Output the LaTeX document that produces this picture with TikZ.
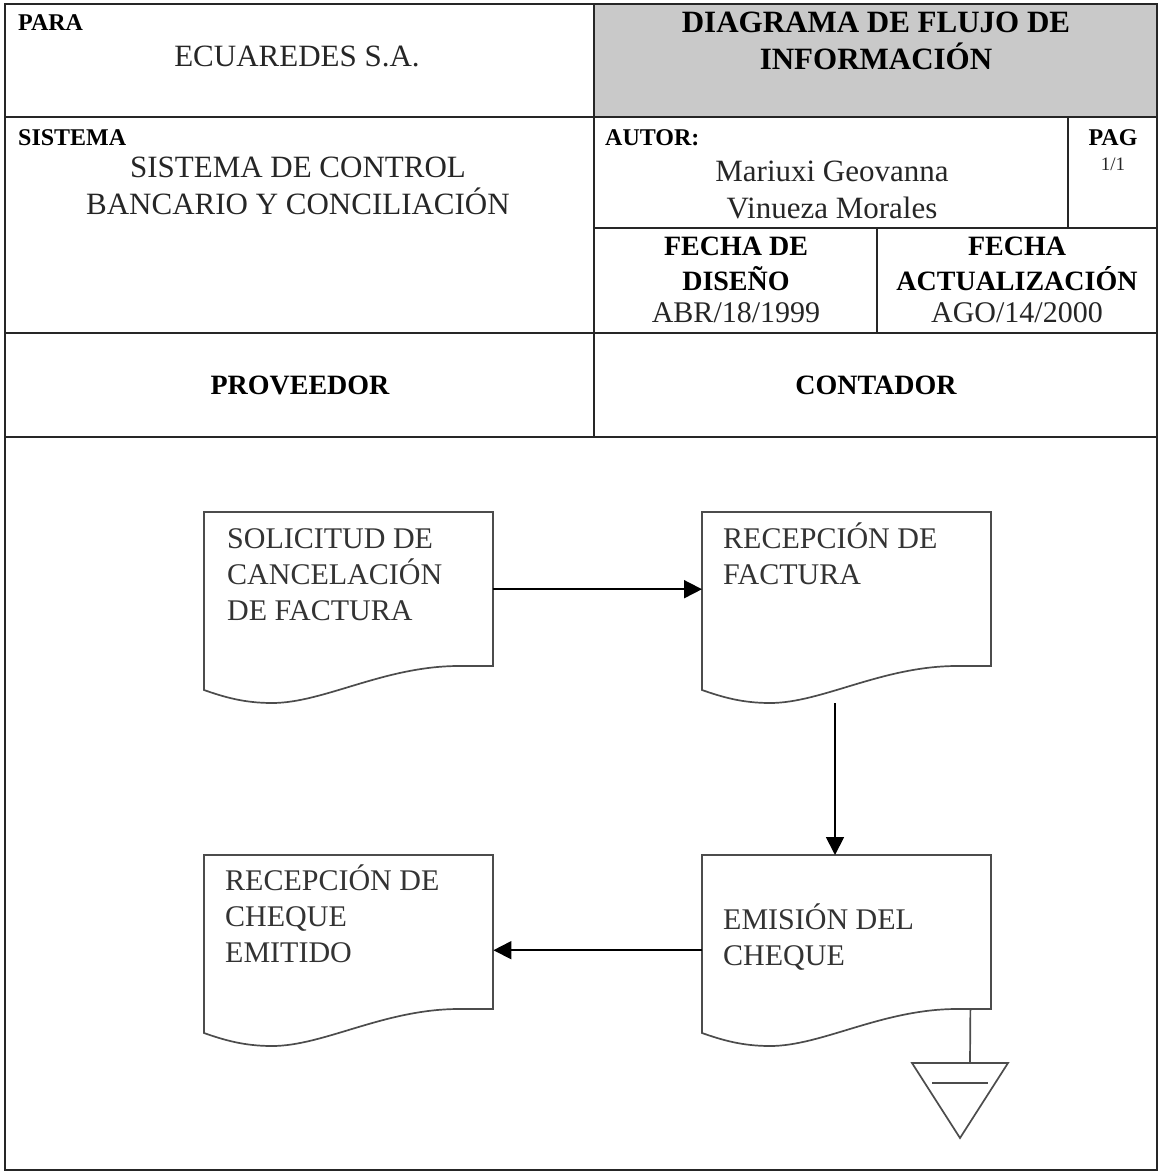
\documentclass[tikz,border=0pt]{standalone}
\usepackage{fontspec}
\setmainfont{Liberation Serif}
\usetikzlibrary{arrows.meta,positioning}

\tikzset{
  frame/.style={line width=2.6pt, draw=black!85},
  fieldname/.style={font=\fontsize{24}{28}\selectfont\bfseries, inner sep=0pt, anchor=north west},
  fieldval/.style={font=\fontsize{31}{37}\selectfont, text=black!85, align=center, inner sep=0pt},
  heading/.style={font=\fontsize{28}{37}\selectfont\bfseries, align=center, inner sep=0pt},
  docbox/.style={minimum width=289pt, minimum height=154pt, inner sep=0pt, anchor=north west},
  docline/.style={line width=1.7pt, draw=black!70},
  doctext/.style={font=\fontsize{30}{36}\selectfont, text=black!80, align=left, inner sep=0pt},
  flow/.style={line width=1.8pt, -{Triangle[length=18pt,width=18pt]}},
}

\begin{document}
\begin{tikzpicture}[x=1pt, y=-1pt]
        \useasboundingbox (0,0) rectangle (1159,1173);
        % cabecera
        \fill[black!21] (594,4) rectangle (1157,117);
        \draw[frame] (5,4) rectangle (1157,1170);
        \draw[frame] (5,117) -- (1157,117) (5,333) -- (1157,333) (5,437) -- (1157,437);
        \draw[frame] (594,4) -- (594,437) (594,228) -- (1157,228);
        \draw[frame] (1068,117) -- (1068,228) (877,228) -- (877,333);

        \node[fieldname] (para) at (18,14) {PARA};
        \node[fieldval] (empresa) at (297,56) {ECUAREDES S.A.};
        \node[heading, font=\fontsize{31}{37}\selectfont\bfseries] (titulo) at (876,41) {DIAGRAMA DE FLUJO DE\\INFORMACIÓN};
        \node[fieldname] (sistema) at (18,129) {SISTEMA};
        \node[fieldval] (sistemanombre) at (298,186) {SISTEMA DE CONTROL\\BANCARIO Y CONCILIACIÓN};
        \node[fieldname] (autor) at (605,129) {AUTOR:};
        \node[fieldval] (autornombre) at (832,190) {Mariuxi Geovanna\\Vinueza Morales};
        \node[fieldname, anchor=north] (pag) at (1113,129) {PAG};
        \node[font=\fontsize{19}{22}\selectfont, text=black!85, inner sep=0pt] (pagnum) at (1113,164) {1/1};
        \node[heading, font=\fontsize{28}{35}\selectfont\bfseries] (fdiseno) at (736,263.5) {FECHA DE\\DISEÑO};
        \node[fieldval, font=\fontsize{30}{37}\selectfont] (fdisenoval) at (736,313) {ABR/18/1999};
        \node[heading, font=\fontsize{28}{35}\selectfont\bfseries] (factual) at (1017,263.5) {FECHA\\ACTUALIZACIÓN};
        \node[fieldval, font=\fontsize{30}{37}\selectfont] (factualval) at (1017,313) {AGO/14/2000};
        \node[heading] (proveedor) at (300,385) {PROVEEDOR};
        \node[heading] (contador) at (876,385) {CONTADOR};

        % documentos
        \node[docbox] (solicitud) at (204,512) {};
        \node[docbox] (recepfact) at (702,512) {};
        \node[docbox] (recepcheque) at (204,855) {};
        \node[docbox] (emision) at (702,855) {};
        \foreach \d in {solicitud,recepfact,recepcheque,emision}
            \draw[docline, shift={(\d.north west)}] (0,178) .. controls (20,185) and (40,191) .. (68,191)
                .. controls (120,191) and (180,154) .. (255,154) -- (289,154) -- (289,0) -- (0,0) -- cycle;

        \node[doctext, below right=11pt and 23pt of solicitud.north west] (solicitud_txt) {\vphantom{Ó}SOLICITUD DE\\CANCELACIÓN\\DE FACTURA};
        \node[doctext, below right=11pt and 21pt of recepfact.north west] (recepfact_txt) {RECEPCIÓN DE\\FACTURA};
        \node[doctext, below right=10pt and 21pt of recepcheque.north west] (recepcheque_txt) {RECEPCIÓN DE\\CHEQUE\\EMITIDO};
        \node[doctext, below right=49pt and 21pt of emision.north west] (emision_txt) {EMISIÓN DEL\\CHEQUE};

        % flujo
        \coordinate (recepfact_out) at ([shift={(133pt,-191pt)}]recepfact.north west);
        \draw[flow] (solicitud.east) -- (recepfact.west);
        \draw[flow] (recepfact_out) -- (recepfact_out |- emision.north);
        \draw[flow] ([yshift=-18pt]emision.west) -- ([yshift=-18pt]recepcheque.east);

        % archivo
        \coordinate (archivo) at (970,1063);
        \draw[docline] (912,1063) -- (1008,1063) -- (960,1138) -- cycle;
        \draw[docline] (932,1083) -- (988,1083);
        \draw[docline] ([xshift=-21pt]emision.south east) -- (archivo);
\end{tikzpicture}
\end{document}
